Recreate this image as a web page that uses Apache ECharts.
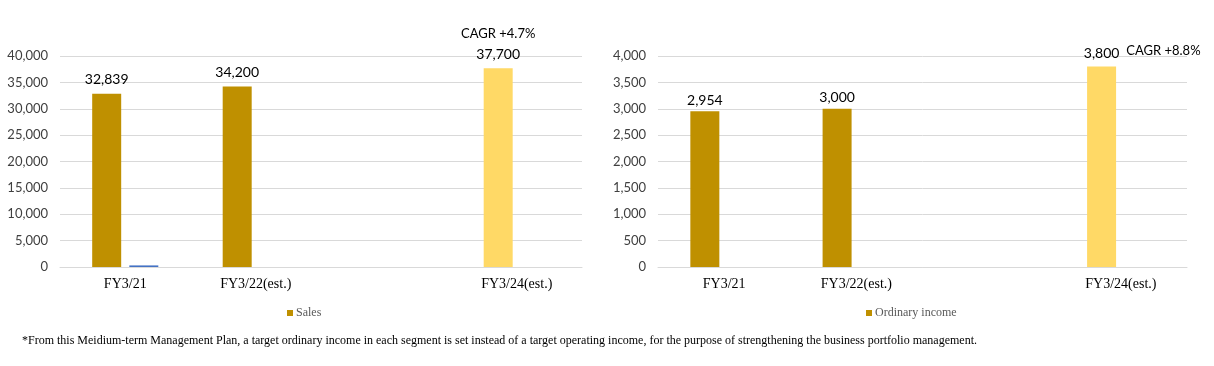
<!DOCTYPE html>
<html><head><meta charset="utf-8">
<script src="https://cdn.jsdelivr.net/npm/echarts@6/dist/echarts.min.js"></script>
<style>html,body{margin:0;padding:0;background:#fff}#c{width:1214px;height:366px}</style>
</head><body><div id="c"></div>
<script>
const categories = ['FY3/21', 'FY3/22(est.)', '', 'FY3/24(est.)'];
const salesValues = [32839, 34200, null, 37700];
const salesAuxValues = [300, null, null, null];
const incomeValues = [2954, 3000, null, 3800];
const incomeAuxValues = [null, null, null, null];
const salesAxis = { min: 0, max: 40000, interval: 5000 };
const incomeAxis = { min: 0, max: 4000, interval: 500 };
const salesCagr = 'CAGR +4.7%';
const incomeCagr = 'CAGR +8.8%';
const targetIndex = 3;
const footnote = '*From this Meidium-term Management Plan, a target ordinary income in each segment is set instead of a target operating income, for the purpose of strengthening the business portfolio management.';

const GOLD = '#BF9000', LIGHT = '#FFD966', BLUE = '#4472C4';
const sansFont = 'Lato';
const serifFont = 'Liberation Serif';
const fmt = v => v.toLocaleString('en-US');

function barData(values) {
  return values.map((v, i) => (v == null ? null : {
    value: v,
    itemStyle: { color: i === targetIndex ? LIGHT : GOLD }
  }));
}

function xAxis(gridIndex) {
  return {
    type: 'category', gridIndex, data: categories,
    axisLine: { lineStyle: { color: '#d9d9d9', width: 1 } },
    axisTick: { show: false },
    axisLabel: { fontFamily: serifFont, fontSize: 14, color: '#000', margin: 10, interval: 0 }
  };
}
function yAxis(gridIndex, ax) {
  return {
    type: 'value', gridIndex, min: ax.min, max: ax.max, interval: ax.interval,
    axisLine: { show: false }, axisTick: { show: false },
    splitLine: { lineStyle: { color: '#d9d9d9', width: 1 } },
    axisLabel: { fontFamily: sansFont, fontSize: 13, color: '#404040', margin: 12, formatter: v => fmt(v) }
  };
}

const chart = echarts.init(document.getElementById('c'), null, { renderer: 'canvas' });
chart.setOption({
  animation: false,
  backgroundColor: '#fff',
  grid: [
    { left: 60, top: 56, width: 522, height: 211 },
    { left: 658, top: 56, width: 529, height: 211 }
  ],
  xAxis: [xAxis(0), xAxis(1)],
  yAxis: [yAxis(0, salesAxis), yAxis(1, incomeAxis)],
  legend: [
    { data: ['Sales'], left: 282, top: 302, icon: 'rect', itemWidth: 6, itemHeight: 6, itemGap: 10,
      textStyle: { fontFamily: serifFont, fontSize: 12, color: '#595959', padding: [0, 0, 0, -2] } },
    { data: ['Ordinary income'], left: 861, top: 302, icon: 'rect', itemWidth: 6, itemHeight: 6, itemGap: 10,
      textStyle: { fontFamily: serifFont, fontSize: 12, color: '#595959', padding: [0, 0, 0, -2] } }
  ],
  series: [
    {
      name: 'Sales', type: 'bar', xAxisIndex: 0, yAxisIndex: 0, barWidth: 29, barGap: '28%',
      itemStyle: { color: GOLD },
      data: barData(salesValues),
      label: {
        show: true, position: 'top', distance: 4, color: '#000', fontFamily: sansFont, fontSize: 14,
        lineHeight: 20,
        formatter: p => (p.dataIndex === targetIndex ? '{c|' + salesCagr + '}\n' + fmt(p.value) : fmt(p.value)),
        rich: { c: { fontFamily: sansFont, fontSize: 13, color: '#000', lineHeight: 20 } }
      }
    },
    {
      name: 'SalesAux', type: 'bar', xAxisIndex: 0, yAxisIndex: 0, barWidth: 29,
      itemStyle: { color: BLUE }, data: salesAuxValues
    },
    {
      name: 'Ordinary income', type: 'bar', xAxisIndex: 1, yAxisIndex: 1, barWidth: 29, barGap: '33%',
      itemStyle: { color: GOLD },
      data: barData(incomeValues),
      label: {
        show: true, position: 'top', distance: 4, color: '#000', fontFamily: sansFont, fontSize: 14,
        formatter: p => (p.dataIndex === targetIndex ? '{a|}{v|' + fmt(p.value) + '}{c|' + incomeCagr + '}' : fmt(p.value)),
        rich: {
          a: { width: 80 },
          v: { fontFamily: sansFont, fontSize: 14, color: '#000' },
          c: { fontFamily: sansFont, fontSize: 13, color: '#000', width: 72, padding: [0, 0, 5, 8] }
        }
      }
    },
    {
      name: 'IncomeAux', type: 'bar', xAxisIndex: 1, yAxisIndex: 1, barWidth: 29,
      itemStyle: { color: BLUE }, data: incomeAuxValues
    }
  ],
  graphic: [
    { type: 'text', left: 22, top: 335,
      style: { text: footnote, fontFamily: serifFont, fontSize: 12, fill: '#000' } }
  ]
});
</script>
</body></html>
